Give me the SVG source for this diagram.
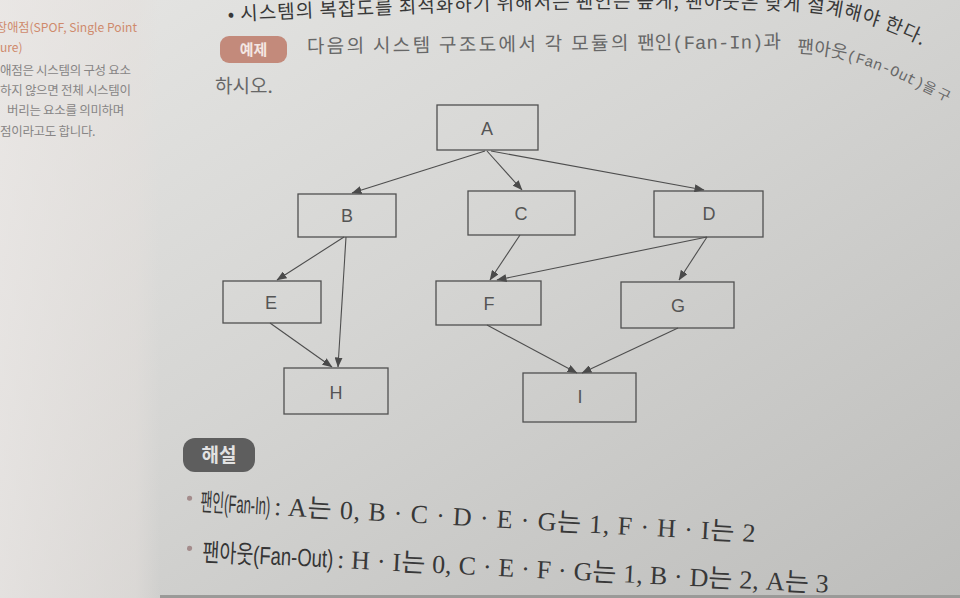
<svg xmlns="http://www.w3.org/2000/svg" width="960" height="598" viewBox="0 0 960 598">
  <defs>
    <linearGradient id="bg" x1="0" y1="0" x2="1" y2="1">
      <stop offset="0" stop-color="#e6e6e4"/>
      <stop offset="0.45" stop-color="#d5d5d3"/>
      <stop offset="1" stop-color="#bdbdbb"/>
    </linearGradient>
    <linearGradient id="margin" x1="0" y1="0" x2="1" y2="0">
      <stop offset="0" stop-color="#ebe7e5" stop-opacity="0.7"/>
      <stop offset="0.85" stop-color="#e4dfdc" stop-opacity="0.5"/>
      <stop offset="1" stop-color="#e4dfdc" stop-opacity="0"/>
    </linearGradient>
    <marker id="ah" markerWidth="10" markerHeight="8" refX="9.5" refY="4" orient="auto" markerUnits="userSpaceOnUse">
      <path d="M0,0 L10,4 L0,8 Z" fill="#4a4a4a"/>
    </marker>
    <path id="curve1" d="M228,21 C 420,12 620,3 800,11 C 850,14 900,30 950,62"/>
    <path id="curve2" d="M797,53 C 830,54 862,62 900,79 L 960,108"/>
  </defs>
  <style>
    .box { fill: none; stroke: #505050; stroke-width: 1.3; }
    .lbl { font-family: "Liberation Sans", Arial, sans-serif; font-size: 18px; fill: #555; text-anchor: middle; }
    .edge { stroke: #4e4e4e; stroke-width: 1.1; fill: none; marker-end: url(#ah); }
    .kr { font-family: "Noto Sans CJK KR", sans-serif; }
    .mono { font-family: "Liberation Mono", "Noto Sans CJK KR", monospace; }
    .side { font-family: "Noto Sans CJK KR", sans-serif; font-size: 12.5px; letter-spacing: -0.3px; fill: #878585; }
    .sideo { font-family: "Noto Sans CJK KR", sans-serif; font-size: 12px; fill: #cf8a6c; }
    .ans { font-family: "Liberation Sans", "Noto Sans CJK KR", sans-serif; font-size: 25px; fill: #353535; }
    .ser { font-family: "Liberation Serif", "Noto Sans CJK KR", serif; font-size: 26px; fill: #383838; }
  </style>

  <!-- page background -->
  <rect x="0" y="0" width="960" height="598" fill="url(#bg)"/>
  <rect x="0" y="0" width="160" height="598" fill="url(#margin)"/>
  <rect x="160" y="595" width="800" height="3" fill="#9a9a98"/>

  <!-- left margin notes -->
  <text class="sideo" x="-4" y="32" textLength="141" lengthAdjust="spacingAndGlyphs">장애점(SPOF, Single Point</text>
  <text class="sideo" x="0" y="52">ure)</text>
  <text class="side" x="0" y="75">애점은 시스템의 구성 요소</text>
  <text class="side" x="0" y="95">하지 않으면 전체 시스템이</text>
  <text class="side" x="7" y="115">버리는 요소를 의미하며</text>
  <text class="side" x="0" y="136">점이라고도 합니다.</text>

  <!-- top text -->
  <text class="kr" font-size="19" fill="#383838" letter-spacing="1"><textPath href="#curve1">• 시스템의 복잡도를 최적화하기 위해서는 팬인은 높게, 팬아웃은 낮게 설계해야 한다.</textPath></text>

  <g id="badge-example">
    <rect x="220" y="36" width="67" height="27" rx="9" fill="#c38a7b"/>
    <text class="kr" x="253.5" y="55" font-size="15" font-weight="bold" fill="#f4e7e3" text-anchor="middle">예제</text>
  </g>
  <g transform="rotate(-0.6 307 53)">
    <text x="307" y="53" font-size="19" fill="#676767"><tspan class="kr" textLength="328">다음의 시스템 구조도에서 각 모듈의 </tspan><tspan class="kr">팬인</tspan><tspan class="mono">(Fan-In)</tspan><tspan class="kr">과</tspan></text>
  </g>
  <text font-size="18" fill="#676767"><textPath href="#curve2"><tspan class="kr">팬아웃</tspan><tspan class="mono" font-size="15">(Fan-Out)</tspan><tspan class="kr" font-size="14">을 구</tspan></textPath></text>
  <text class="kr" x="215" y="93" font-size="19" fill="#676767">하시오.</text>

  <!-- connectors -->
  <g id="connectors">
    <line class="edge" x1="485" y1="151" x2="352" y2="193"/>
    <line class="edge" x1="487" y1="151" x2="522" y2="190"/>
    <line class="edge" x1="491" y1="151" x2="704" y2="190"/>
    <line class="edge" x1="344" y1="237" x2="277" y2="280"/>
    <line class="edge" x1="346" y1="237" x2="338" y2="367"/>
    <line class="edge" x1="270" y1="323" x2="332" y2="367"/>
    <line class="edge" x1="520" y1="235" x2="490" y2="280"/>
    <line class="edge" x1="707" y1="237" x2="497" y2="280"/>
    <line class="edge" x1="707" y1="237" x2="679" y2="280"/>
    <line class="edge" x1="487" y1="325" x2="577" y2="373"/>
    <line class="edge" x1="678" y1="328" x2="582" y2="373"/>
  </g>

  <!-- nodes -->
  <g id="node-A"><rect class="box" x="437" y="105" width="101" height="45"/><text class="lbl" x="487" y="135">A</text></g>
  <g id="node-B"><rect class="box" x="298" y="194" width="98" height="43"/><text class="lbl" x="347" y="222">B</text></g>
  <g id="node-C"><rect class="box" x="468" y="191" width="107" height="44"/><text class="lbl" x="521" y="220">C</text></g>
  <g id="node-D"><rect class="box" x="654" y="191" width="109" height="46"/><text class="lbl" x="709" y="220">D</text></g>
  <g id="node-E"><rect class="box" x="223" y="281" width="98" height="42"/><text class="lbl" x="271" y="309">E</text></g>
  <g id="node-F"><rect class="box" x="436" y="281" width="105" height="44"/><text class="lbl" x="489" y="310">F</text></g>
  <g id="node-G"><rect class="box" x="621" y="282" width="113" height="46"/><text class="lbl" x="678" y="312">G</text></g>
  <g id="node-H"><rect class="box" x="284" y="368" width="104" height="46"/><text class="lbl" x="336" y="399">H</text></g>
  <g id="node-I"><rect class="box" x="523" y="373" width="113" height="49"/><text class="lbl" x="580" y="403">I</text></g>

  <!-- answer -->
  <g id="badge-answer">
    <rect x="183" y="438" width="72" height="34" rx="12" fill="#5e5e5e"/>
    <text class="kr" x="219" y="462" font-size="19" font-weight="bold" fill="#e2e2e2" text-anchor="middle">해설</text>
  </g>
  <g transform="rotate(3.2 203 509)">
    <circle cx="189" cy="499" r="2.6" fill="#a48c8c"/>
    <text class="ans" x="200" y="511" textLength="70" lengthAdjust="spacingAndGlyphs">팬인(Fan-In)</text>
    <text class="ser" x="274" y="511" textLength="482">: A는 0, B · C · D · E · G는 1, F · H · I는 2</text>
  </g>
  <g transform="rotate(2.9 202 560)">
    <circle cx="189" cy="549" r="2.6" fill="#a48c8c"/>
    <text class="ans" x="202" y="561" textLength="131" lengthAdjust="spacingAndGlyphs">팬아웃(Fan-Out)</text>
    <text class="ser" x="337" y="561" textLength="492">: H · I는 0, C · E · F · G는 1, B · D는 2, A는 3</text>
  </g>
</svg>
